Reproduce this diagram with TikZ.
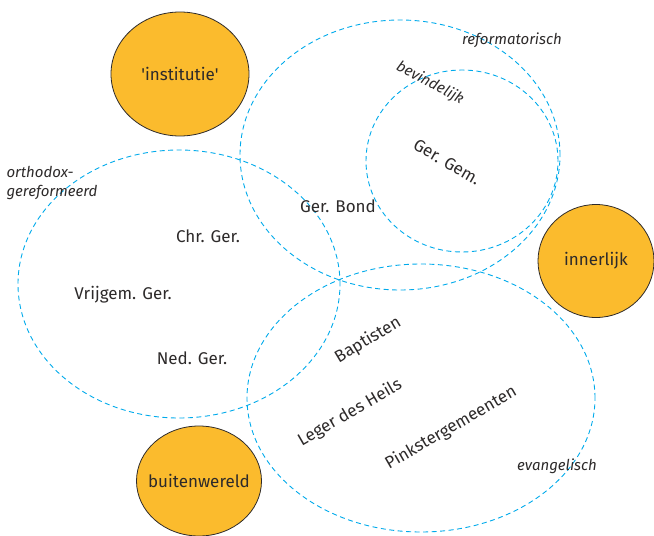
\documentclass[tikz,border=0pt]{standalone}
\usepackage{fontspec}
\setmainfont{Fira Sans}
\usepackage{tikz}
\usetikzlibrary{shapes.geometric}
\definecolor{blob}{RGB}{251,187,45}
\definecolor{groupline}{RGB}{0,170,235}
\definecolor{ink}{RGB}{45,42,42}
\newcommand{\drawdashed}{\draw[groupline, line width=0.9pt, dash pattern=on 5pt off 3.5pt]}
\newcommand{\blobtext}[1]{\makebox[0pt]{#1}}
\tikzset{
  blobnode/.style={ellipse, draw=ink, line width=0.8pt, fill=blob, text=ink, inner sep=0pt,
    font=\fontsize{17}{19}\selectfont},
  group/.style={text=ink, font=\fontsize{15}{19}\selectfont\itshape},
  church/.style={text=ink, font=\fontsize{17}{19}\selectfont}
}
\begin{document}
\begin{tikzpicture}[x=1pt,y=-1pt]
\useasboundingbox (0,0) rectangle (654,536);
% orange circles
\node[blobnode, minimum width=138pt, minimum height=124pt] (institutie) at (180,74) {\blobtext{\textquotesingle institutie\textquotesingle}};
\node[blobnode, minimum width=116pt, minimum height=113pt] (innerlijk) at (596,261) {\blobtext{innerlijk}};
\node[blobnode, minimum width=125pt, minimum height=110pt] (buitenwereld) at (199,481) {\blobtext{buitenwereld}};
% dashed groups
\drawdashed (400,155) ellipse [x radius=160pt, y radius=135pt];
\drawdashed (462,161) ellipse [x radius=96pt, y radius=91pt];
\drawdashed (179,284) ellipse [x radius=161pt, y radius=134pt];
\drawdashed (421,398) ellipse [x radius=174pt, y radius=134pt];
% group labels
\node[group] (reformatorisch) at (512,40) {reformatorisch};
\node[group, rotate=-28] (bevindelijk) at (430,83) {bevindelijk};
\node[group, align=left, anchor=west] (orthodox) at (3,183) {orthodox-\\gereformeerd};
\node[group] (evangelisch) at (557,466) {evangelisch};
% churches
\node[church, rotate=-30] (gergem) at (447,162) {Ger. Gem.};
\node[church] (gerbond) at (338,206) {Ger. Bond};
\node[church] (chrger) at (208,236) {Chr. Ger.};
\node[church] (vrijgem) at (123,295) {Vrijgem. Ger.};
\node[church] (nedger) at (192,358) {Ned. Ger.};
\node[church, rotate=31] (baptisten) at (368,340) {Baptisten};
\node[church, rotate=30] (leger) at (350,413) {Leger des Heils};
\node[church, rotate=30] (pinkster) at (451,428) {Pinkstergemeenten};
\end{tikzpicture}
\end{document}
